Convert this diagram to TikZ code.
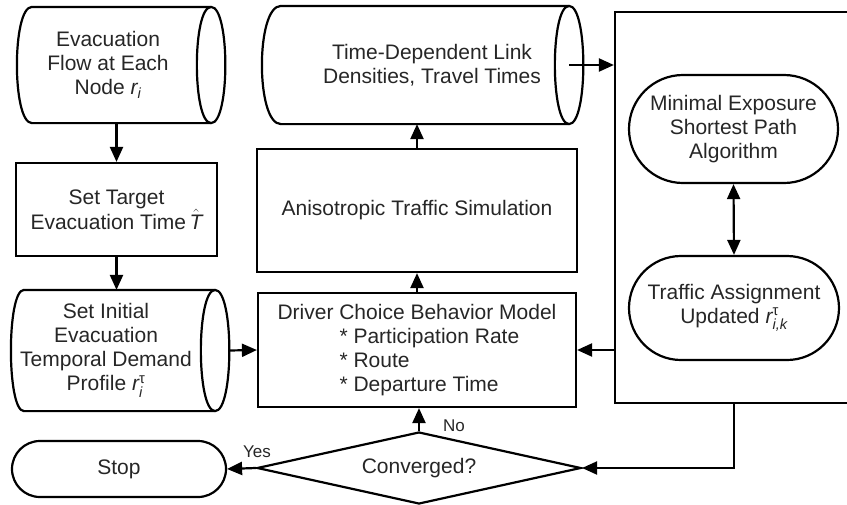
\documentclass[tikz,border=0pt]{standalone}
\usepackage{amsmath}
\usepackage{fontspec}
\setmainfont{Liberation Sans}
\usetikzlibrary{arrows.meta,shapes.geometric,shapes.misc}

\begin{document}
\begin{tikzpicture}[x=1pt,y=-1pt,line width=2.2pt,
    font=\fontsize{21}{24}\selectfont,text=black!85]
\useasboundingbox (0,0) rectangle (847,504);
\clip (0,0) rectangle (847,504);
% stored data: text nodes, outline drawn below
\begin{scope}[every node/.style={rectangle,align=center,inner sep=0pt}]
    \node[minimum width=180pt,minimum height=114pt] (flow) at (108,65)
        {Evacuation\\Flow at Each\\Node $\textit{r}_{\textit{i}}$};
    \node[minimum width=188pt,minimum height=119pt] (init) at (106,350.5)
        {Set Initial\\Evacuation\\Temporal Demand\\Profile $\textit{r}^{\text{τ}}_{\textit{i}}$};
    \node[minimum width=338pt,minimum height=116pt] (dens) at (432,65)
        {Time-Dependent Link\\Densities, Travel Times};
\end{scope}
% curved left side, lens on the right (\l: left corner, \r: lens centre)
\foreach \n/\l/\r in {flow/15/12,init/13/14,dens/19/-33}{
    \draw ([xshift=\l]\n.north west) -- ([xshift=\r]\n.north east)
        .. controls ([xshift=\r+19]\n.north east) and ([xshift=\r+19]\n.south east)
        .. ([xshift=\r]\n.south east) -- ([xshift=\l]\n.south west)
        .. controls ([xshift=-\l/3]\n.south west) and ([xshift=-\l/3]\n.north west)
        .. cycle;
    \draw ([xshift=\r]\n.north east)
        .. controls ([xshift=\r-19]\n.north east) and ([xshift=\r-19]\n.south east)
        .. ([xshift=\r]\n.south east);
}
% process boxes
\begin{scope}[every node/.style={rectangle,draw,align=center,inner sep=0pt}]
    \node[minimum width=201pt,minimum height=93pt] (target) at (116.5,209.5)
        {Set Target\\Evacuation Time\,$\hat{\textit{T}}$};
    \node[minimum width=320pt,minimum height=123pt] (sim) at (417,210.5)
        {Anisotropic Traffic Simulation};
    \node[minimum width=318pt,minimum height=114pt,align=left] (driver) at (417,350)
        {Driver Choice Behavior Model\\
         \hspace*{62pt}* Participation Rate\\
         \hspace*{62pt}* Route\\
         \hspace*{62pt}* Departure Time};
    \node[minimum width=265pt,minimum height=391pt] (feedback) at (747.5,207.5) {};
\end{scope}
\begin{scope}[every node/.style={rounded rectangle,draw,align=center,inner sep=0pt}]
    \node[minimum width=214pt,minimum height=56pt] (stop) at (119,469) {Stop};
    \node[minimum width=209pt,minimum height=108pt] (minexp) at (733.5,129)
        {Minimal Exposure\\Shortest Path\\Algorithm};
    \node[minimum width=210pt,minimum height=104pt] (assign) at (734,308)
        {Traffic Assignment\\Updated $\textit{r}^{\text{τ}}_{\textit{i,k}}$};
\end{scope}
\node[diamond,draw,aspect=4.5,minimum width=324pt,minimum height=72pt,
      inner sep=0pt] (conv) at (419,468) {Converged?};
\begin{scope}[font=\fontsize{17}{20}\selectfont]
    \node (yes) at (257,452) {Yes};
    \node (no) at (454,426) {No};
\end{scope}
% flow of control
\begin{scope}[>={Triangle[length=15pt,width=13pt]},
              every edge/.style={draw,line width=2.2pt}]
    \path [->] (flow.south -| target.north) edge (target.north);
    \path [->] (target.south) edge (target.south |- init.north);
    \path [->] ([xshift=28pt]init.east) edge (driver.west);
    \path [->] (driver.north) edge (sim.south);
    \path [->] (sim.north) edge (sim.north |- dens.south);
    \path [->] ([xshift=-33pt]dens.east) edge (dens.east -| feedback.west);
    \path [<->] (minexp.south) edge (assign.north);
    \path [->] (driver.east -| feedback.west) edge (driver.east);
    \path [->] (conv.north) edge (conv.north |- driver.south);
    \path [->] (conv.west) edge (stop.east);
    \draw [->] (feedback.south -| assign.south) |- (conv.east);
\end{scope}
\end{tikzpicture}
\end{document}
